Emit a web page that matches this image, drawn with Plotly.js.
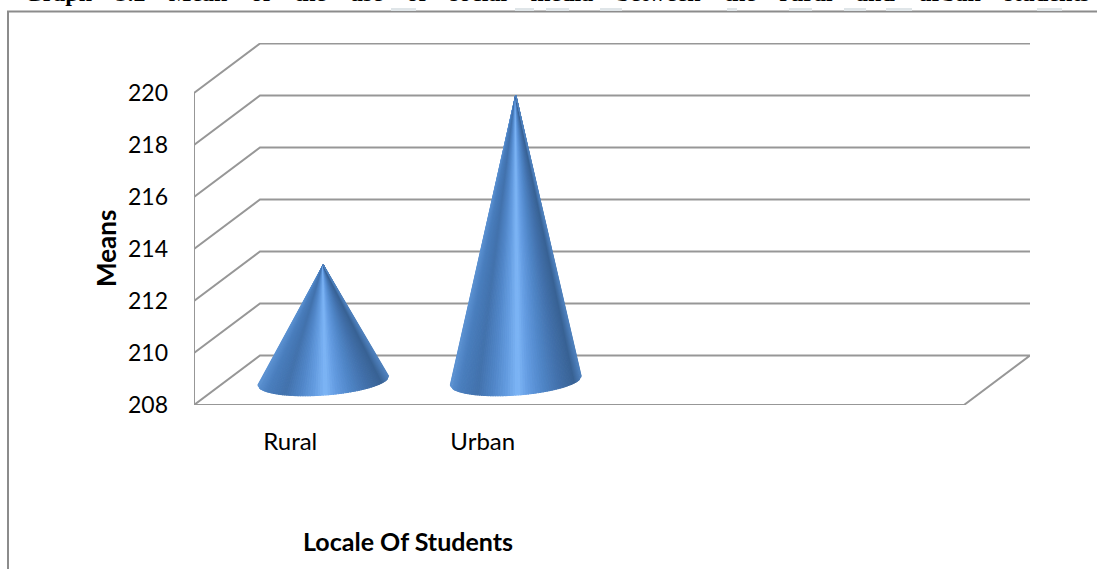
<!DOCTYPE html>
<html>
<head>
<meta charset="utf-8">
<script src="https://cdn.plot.ly/plotly-3.0.1.min.js"></script>
<style>
  html, body { margin: 0; padding: 0; background: #fff; }
  #chart { width: 1097px; height: 569px; }
  /* the heading is set justified across the page width */
  .gtitle { word-spacing: 17.4px; }
</style>
</head>
<body>
<div id="chart"></div>
<script>
// Mean use of social media by locale
const categories = ['Rural', 'Urban'];
const means = [212.43, 218.97];
const valueTicks = [208, 210, 212, 214, 216, 218, 220];
const categorySlots = 4;
const chartTitle = 'Graph 3.2 Mean of the use of social media between the rural and urban students';
const xTitle = 'Locale Of Students';
const yTitle = 'Means';

// Oblique projection of the chart box: one unit of depth moves right and up
const depthDX = 66 / 192.5;
const depthDY = 49.5 / 26;
const xMin = -0.5;
const xMax = xMin + categorySlots;
const yMin = valueTicks[0];
const yMax = valueTicks[valueTicks.length - 1];
const project = (x, v, d) => [x + d * depthDX, v + d * depthDY];

const marginL = 194, marginR = 67, marginT = 43, marginB = 164;
const plotW = 1097 - marginL - marginR, plotH = 569 - marginT - marginB;
const toPaperX = px => (px - marginL) / plotW;
const toPaperY = py => (569 - marginB - py) / plotH;

const gridColor = '#979797';
const gridWidth = 2;
const traces = [];

function polyline(points, color, width) {
  traces.push({
    type: 'scatter', mode: 'lines', cliponaxis: false, hoverinfo: 'skip', showlegend: false,
    x: points.map(p => p[0]), y: points.map(p => p[1]),
    line: { color: color, width: width, simplify: false }
  });
}

// Gridlines run along the side wall and then across the back wall
valueTicks.slice(1).forEach(v => {
  polyline([project(xMin, v, 0), project(xMin, v, 1), project(xMax, v, 1)], gridColor, gridWidth);
});
// Floor outline and the front edge of the side wall
polyline([project(xMin, yMin, 0), project(xMax, yMin, 0), project(xMax, yMin, 1),
          project(xMin, yMin, 1), project(xMin, yMin, 0)], gridColor, gridWidth);
polyline([project(xMin, yMin, 0), project(xMin, yMax, 0)], gridColor, gridWidth);

// Cone shading across the base, from the left rim (-1) to the right rim (+1)
const shadeStops = [
  [-1.00, 92, 146, 210],
  [-0.85, 74, 126, 190],
  [-0.58, 66, 114, 172],
  [-0.32, 82, 136, 202],
  [-0.14, 100, 156, 224],
  [ 0.04, 126, 182, 246],
  [ 0.20, 100, 156, 226],
  [ 0.42, 80, 134, 200],
  [ 0.68, 66, 112, 170],
  [ 0.90, 56, 98, 148],
  [ 1.00, 78, 128, 188]
];
function shade(u) {
  for (let i = 1; i < shadeStops.length; i++) {
    const a = shadeStops[i - 1], b = shadeStops[i];
    if (u <= b[0]) {
      const k = (u - a[0]) / (b[0] - a[0]);
      const c = [1, 2, 3].map(j => Math.round(a[j] + k * (b[j] - a[j])));
      return 'rgb(' + c.join(',') + ')';
    }
  }
  const e = shadeStops[shadeStops.length - 1];
  return 'rgb(' + e.slice(1).join(',') + ')';
}

// Half-axes of the tilted elliptical base, in axis units
const baseMajorX = 65.5 / 192.5;
const baseMajorY = 4.5 / 26;
const baseMinorY = 14.8 / 26;
const wedgeCount = 80;

// Each cone is a fan of narrow wedges from the apex to the front rim of its base
function addCone(slot, value) {
  const apex = project(slot, value, 0.5);
  const centre = project(slot, yMin, 0.5);
  const rim = u => {
    const s = Math.sqrt(Math.max(0, 1 - u * u));
    return [centre[0] + u * baseMajorX, centre[1] + u * baseMajorY - s * baseMinorY];
  };
  for (let i = 0; i < wedgeCount; i++) {
    const t0 = Math.PI * (1 - i / wedgeCount), t1 = Math.PI * (1 - (i + 1) / wedgeCount);
    const u0 = Math.cos(t0), u1 = Math.cos(t1);
    const colour = shade((u0 + u1) / 2);
    const a = rim(u0), b = rim(u1);
    traces.push({
      type: 'scatter', mode: 'lines', fill: 'toself', cliponaxis: false,
      hoverinfo: 'skip', showlegend: false,
      x: [apex[0], a[0], b[0], apex[0]], y: [apex[1], a[1], b[1], apex[1]],
      fillcolor: colour, line: { color: colour, width: 1.1 }
    });
  }
}
categories.forEach((_, i) => addCone(i, means[i]));

// Surrounding chart frame, open at the right and bottom of the page
const frameX = 8, frameY = 11.5;
const frame = {
  type: 'path', xref: 'paper', yref: 'paper', layer: 'below',
  path: 'M ' + toPaperX(frameX) + ' ' + toPaperY(569) +
        ' L ' + toPaperX(frameX) + ' ' + toPaperY(frameY) +
        ' L ' + toPaperX(1097) + ' ' + toPaperY(frameY),
  line: { color: '#8c8c8c', width: 2 }
};

// Faint marks that sit just above the frame, under the heading
const markStart = [391, 515, 546, 600, 727, 789, 844, 886, 1037];
const markEnd = [416, 534, 569, 622, 737, 812, 866, 912, 1062];
const marks = markStart.map((x0, i) => ({
  type: 'rect', xref: 'paper', yref: 'paper', layer: 'below',
  x0: toPaperX(x0), x1: toPaperX(markEnd[i]), y0: toPaperY(11), y1: toPaperY(8),
  fillcolor: '#dfe5e8', line: { width: 0 }
}));

const layout = {
  width: 1097, height: 569,
  margin: { l: marginL, r: marginR, t: marginT, b: marginB, autoexpand: false },
  paper_bgcolor: '#ffffff', plot_bgcolor: 'rgba(0,0,0,0)',
  showlegend: false,
  font: { family: 'Lato, sans-serif', color: '#000000' },
  title: {
    text: chartTitle,
    font: { family: '"Liberation Serif", serif', size: 24, color: '#000000', weight: 'bold' },
    xref: 'container', yref: 'container', x: 24 / 1097, xanchor: 'left',
    y: 1 - 0.5 / 569, yanchor: 'bottom'
  },
  xaxis: {
    range: [xMin, xMax + depthDX], tickmode: 'array',
    tickvals: categories.map((_, i) => i), ticktext: categories,
    showgrid: false, zeroline: false, showline: false, ticks: '',
    ticklabelstandoff: 20, tickfont: { family: 'Lato, sans-serif', size: 24, color: '#000' }
  },
  yaxis: {
    range: [yMin, yMin + plotH / 26], tickmode: 'array',
    tickvals: valueTicks, ticktext: valueTicks.map(String),
    showgrid: false, zeroline: false, showline: false, ticks: '',
    ticklabelstandoff: 25, tickfont: { family: 'Lato, sans-serif', size: 23, color: '#000' }
  },
  annotations: [
    { text: '<b>' + xTitle + '</b>', xref: 'paper', yref: 'paper', showarrow: false,
      x: toPaperX(408), y: toPaperY(541), xanchor: 'center', yanchor: 'middle',
      font: { family: 'Lato, sans-serif', size: 25, color: '#000' } },
    { text: '<b>' + yTitle + '</b>', xref: 'paper', yref: 'paper', showarrow: false,
      x: toPaperX(106), y: toPaperY(249), xanchor: 'center', yanchor: 'middle', textangle: -90,
      font: { family: 'Lato, sans-serif', size: 26, color: '#000' } }
  ],
  shapes: [frame].concat(marks)
};

Plotly.newPlot('chart', traces, layout, { staticPlot: true, displayModeBar: false });
</script>
</body>
</html>
